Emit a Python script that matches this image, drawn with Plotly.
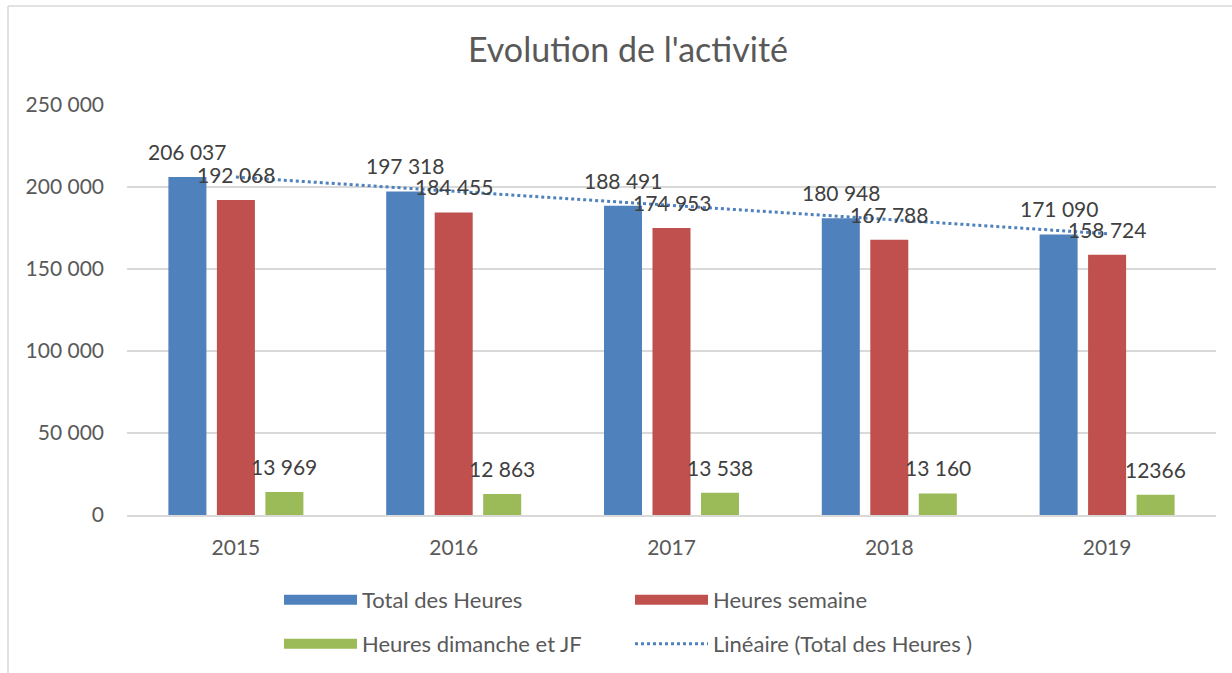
import numpy as np
import plotly.graph_objects as go

# ---------------- data ----------------
years = ["2015", "2016", "2017", "2018", "2019"]
total_heures = [206037, 197318, 188491, 180948, 171090]
heures_semaine = [192068, 184455, 174953, 167788, 158724]
heures_dimanche = [13969, 12863, 13538, 13160, 12366]
series_names = ["Total des Heures", "Heures semaine", "Heures dimanche et JF"]
trend_name = "Linéaire (Total des Heures )"
title_text = "Evolution de l'activité"
y_ticks = [0, 50000, 100000, 150000, 200000, 250000]

colors = ["#4F81BD", "#C0504D", "#9BBB59"]
FONT = "Lato"


def fmt(v):
    return f"{v:,}".replace(",", " ")


series = [total_heures, heures_semaine, heures_dimanche]
labels = [[fmt(v) for v in s] for s in series]
labels[2][4] = str(heures_dimanche[4])  # written without separator in the source

# linear trendline of the total (as Excel's "Linéaire")
idx = np.arange(len(years))
coef = np.polyfit(idx, total_heures, 1)
trend = np.polyval(coef, idx)

fig = go.Figure()
for name, vals, col in zip(series_names, series, colors):
    fig.add_trace(go.Bar(x=years, y=vals, name=name, marker=dict(color=col, line=dict(width=0)),
                         showlegend=False, hoverinfo="skip"))

fig.add_trace(go.Scatter(x=years, y=trend, mode="lines", name=trend_name,
                         line=dict(color="#4F81BD", width=3, dash="dot"),
                         showlegend=False, hoverinfo="skip"))

# legend entries (wide swatches like the Excel legend)
legend_ids = ["legend", "legend", "legend2"]
for name, col, lg in zip(series_names, colors, legend_ids):
    fig.add_trace(go.Scatter(x=[None], y=[None], mode="lines", name=name,
                             line=dict(color=col, width=14), legend=lg, hoverinfo="skip"))
fig.add_trace(go.Scatter(x=[None], y=[None], mode="lines", name=trend_name,
                         line=dict(color="#4F81BD", width=3, dash="dot"),
                         legend="legend2", hoverinfo="skip"))

# data labels
W = 1232
plot_l, plot_r = 127, 16
cat_w = (W - plot_l - plot_r) / len(years)
bargap = 0.332
slot = cat_w * (1 - bargap) / 3
annotations = []
for k, (vals, labs) in enumerate(zip(series, labels)):
    for i, (v, t) in enumerate(zip(vals, labs)):
        annotations.append(dict(x=i, y=v, text=t, showarrow=False, xref="x", yref="y",
                                xshift=(k - 1) * slot, yshift=11, yanchor="bottom",
                                font=dict(family=FONT, size=21, color="#404040")))

grey = "#d9d9d9"
leg_common = dict(orientation="h", xref="container", yref="container",
                  x=279 / W, xanchor="left", yanchor="top",
                  entrywidth=263, entrywidthmode="pixels", itemwidth=73,
                  font=dict(family=FONT, size=22, color="#595959"),
                  bgcolor="rgba(0,0,0,0)", traceorder="normal")
fig.update_layout(
    width=W, height=673, autosize=False,
    margin=dict(l=plot_l, r=plot_r, t=105, b=158),
    paper_bgcolor="white", plot_bgcolor="white",
    separators=", ",
    barmode="group", bargap=bargap, bargroupgap=0.216,
    title=dict(text=title_text, x=628 / W, xref="container", xanchor="center",
               y=1 - 50 / 673, yref="container", yanchor="middle",
               font=dict(family=FONT, size=34, color="#595959")),
    xaxis=dict(type="category", range=[-0.5, len(years) - 0.5], showgrid=False,
               showline=True, linecolor=grey, linewidth=1.5,
               ticks="", ticklabelstandoff=13,
               tickfont=dict(family=FONT, size=21, color="#595959")),
    yaxis=dict(range=[0, 250000], tickvals=y_ticks, tickformat=",d", showgrid=True,
               gridcolor=grey, gridwidth=1.5, zeroline=False, showline=False, ticks="",
               ticklabelstandoff=22,
               tickfont=dict(family=FONT, size=21, color="#595959")),
    annotations=annotations,
    legend=dict(leg_common, y=1 - 579 / 673),
    legend2=dict(leg_common, y=1 - 623 / 673),
    shapes=[
        dict(type="line", xref="paper", yref="paper",
             x0=(8 - plot_l) / (W - plot_l - plot_r), x1=(8 - plot_l) / (W - plot_l - plot_r),
             y0=(515 - 6) / 410, y1=-1, line=dict(color=grey, width=1.5)),
        dict(type="line", xref="paper", yref="paper",
             x0=(8 - plot_l) / (W - plot_l - plot_r), x1=1.5,
             y0=(515 - 6) / 410, y1=(515 - 6) / 410, line=dict(color=grey, width=1.5)),
    ],
)

fig.write_html("out.html", config={"displayModeBar": False},
               post_script="document.body.style.margin='0';")
